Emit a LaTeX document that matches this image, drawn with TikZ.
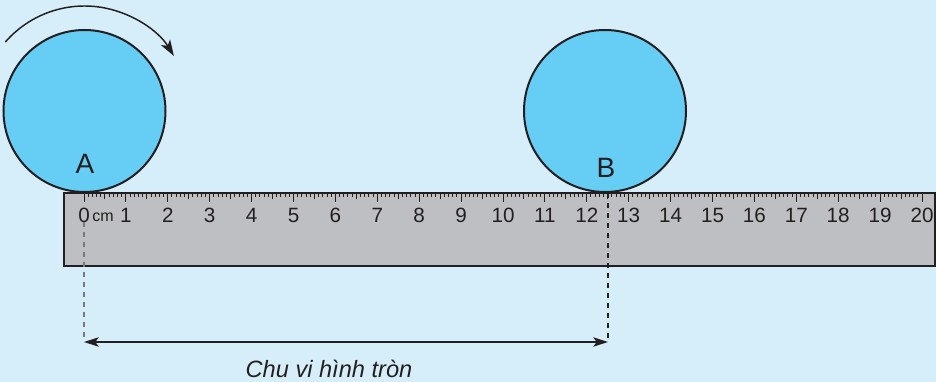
\documentclass[tikz,border=0pt]{standalone}
\usepackage{fontspec}
\setmainfont{Liberation Sans}
\usepackage{xcolor}
\usetikzlibrary{arrows.meta,positioning,calc}
\definecolor{bgblue}{RGB}{214,238,250}
\definecolor{wheelblue}{RGB}{102,206,245}
\definecolor{rulergray}{RGB}{190,191,194}
\definecolor{inkdark}{RGB}{35,31,32}
\definecolor{guidegray}{RGB}{120,120,126}

\begin{document}
\begin{tikzpicture}[
x=0.75pt,
y=0.75pt,
every node/.style={text=inkdark,inner sep=0pt},
wheel/.style={circle,draw=inkdark,fill=wheelblue,line width=1.5pt,minimum size=121.5pt},
ruler/.style={rectangle,draw=inkdark,fill=rulergray,line width=2pt,minimum width=653.25pt,minimum height=54.75pt},
tick/.style={draw=inkdark,line width=0.75pt},
num/.style={font=\fontsize{15.5}{18}\selectfont},
unitlbl/.style={font=\fontsize{12}{14}\selectfont},
ptlbl/.style={font=\fontsize{21}{24}\selectfont},
caption/.style={font=\fontsize{17.7}{20}\selectfont\itshape},
guide/.style={dash pattern=on 4pt off 3.5pt},
span/.style={{Stealth[length=11pt,width=7pt,inset=2.5pt]}-{Stealth[length=11pt,width=7pt,inset=2.5pt]},line width=1.1pt,draw=inkdark},
rot/.style={-{Stealth[length=12pt,width=8pt,inset=3pt]},line width=1.1pt,draw=inkdark}
]
\fill[bgblue] (0,0) rectangle (936,382);
\useasboundingbox (0,0) rectangle (936,382);

% wheels
\node[wheel] (cA) at (84.5,271) {};
\node[wheel] (cB) at (605,271) {};
\draw[rot] ([shift={(138.9:105)}]cA.center) arc[start angle=138.9,end angle=31.6,radius=105];
\node[ptlbl] (la) at (85,218) {A};
\node[ptlbl] (lb) at (606,214) {B};

% ruler
\node[ruler] (rul) at (499.5,152.5) {};
\foreach \m in {0,...,200}{
  \pgfmathsetmacro{\tl}{ifthenelse(mod(\m,10)==0,9,ifthenelse(mod(\m,5)==0,6.5,4.5))}
  \draw[tick] (84+\m*4.19,189) -- ++(0,-\tl);
}
\foreach \n in {0,...,20}
  \node[num] (n\n) at (84+\n*41.9,167) {\n};
\node[unitlbl] (cm) at (103,165) {cm};

% circumference
\coordinate (ja) at (84,160);
\coordinate (jb) at (608,189);
\coordinate (ea) at (84,40);
\coordinate (eb) at (608,40);
\draw[guide,draw=guidegray,line width=1.2pt] (ja) -- (ea);
\draw[guide,draw=inkdark,line width=0.8pt] (jb) -- (eb);
\draw[span] (ea) -- (eb);
\node[caption] (cap) at (329,13) {Chu vi hình tròn};
\end{tikzpicture}
\end{document}
